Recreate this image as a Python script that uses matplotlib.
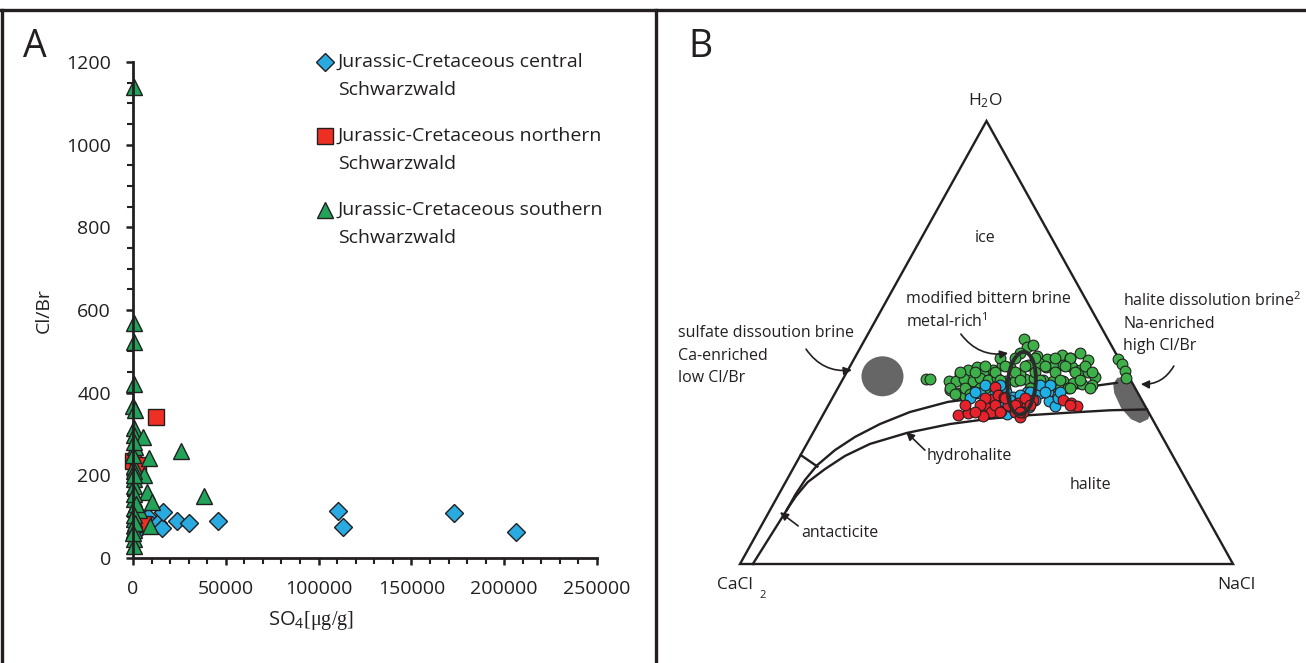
import numpy as np
import matplotlib
matplotlib.use("Agg")
import matplotlib.pyplot as plt
from matplotlib.ticker import MultipleLocator
from matplotlib.lines import Line2D
from matplotlib.patches import Ellipse, Polygon

plt.rcParams['font.family'] = ['Open Sans', 'DejaVu Sans']
plt.rcParams['mathtext.fontset'] = 'custom'
plt.rcParams['mathtext.rm'] = 'Liberation Serif'
plt.rcParams['mathtext.sf'] = 'Open Sans'
plt.rcParams['mathtext.it'] = 'Open Sans:italic'

ink = '#231f20'

# ---- panel A: SO4 [ug/g] vs Cl/Br ----
central_so4 = [1000, 3000, 8000, 10500, 13500, 15500, 16300, 23500, 30300, 46000,
               110500, 113200, 172900, 206200]
central_clbr = [60, 95, 100, 80, 85, 72, 112, 90, 84, 90, 114, 75, 110, 63]

northern_so4 = [200, 2800, 5500, 12300]
northern_clbr = [235, 225, 82, 340]

southern_so4 = [500, 500, 500, 300, 200, 1200, 300, 600, 5300, 1200, 8800, 26000,
                500, 5800, 300, 500, 7500, 38000, 10000, 300, 500, 3300, 300, 9000,
                500, 300, 500, 200, 800, 400, 1500, 600, 1000, 200, 700, 400]
southern_clbr = [1140, 568, 522, 420, 368, 358, 315, 298, 292, 268, 243, 260,
                 222, 202, 192, 175, 160, 150, 135, 142, 122, 115, 95, 78,
                 68, 45, 30, 250, 210, 155, 130, 105, 85, 60, 200, 280]

legend_labels = ['Jurassic-Cretaceous central', 'Jurassic-Cretaceous northern',
                 'Jurassic-Cretaceous southern']

# ---- panel B: ternary H2O - CaCl2 - NaCl (wt.% H2O, wt.% NaCl) ----
green_h = [41.7, 41.8, 50.7, 48.9, 49.4, 47.7, 47.6, 47.0, 46.2, 47.2, 46.4, 46.0,
           43.0, 43.8, 44.5, 43.9, 43.8, 44.9, 44.5, 44.9, 45.3, 44.5, 44.9, 44.9,
           44.5, 43.9, 43.4, 42.3, 41.2, 41.4, 41.7, 41.2, 41.9, 41.5, 41.9, 41.4,
           41.2, 41.7, 41.9, 41.5, 41.4, 41.2, 40.9, 40.6, 40.4, 39.3, 38.7, 37.9,
           38.9, 39.7, 39.7, 40.0, 39.7, 39.7, 43.0, 46.3, 45.1, 43.6, 42.0,
           46.5, 46.5, 46.5, 46.5, 46.5, 44.7, 44.7, 44.7, 44.7, 44.7, 44.7,
           43.3, 43.3, 43.3, 43.3, 43.3, 43.3, 43.3, 43.3, 41.5, 41.5, 41.5, 41.5,
           41.5, 39.7, 39.7, 39.7, 39.7, 39.7, 39.7, 39.7, 39.7, 38.4, 38.4]
green_n = [16.9, 17.6, 32.3, 33.7, 34.7, 45.1, 33.0, 36.7, 39.1, 41.7, 43.7, 47.6,
           23.1, 24.4, 25.8, 27.8, 29.5, 30.6, 32.5, 36.0, 37.9, 39.9, 41.4, 43.1,
           45.0, 47.0, 48.9, 50.9, 21.7, 23.1, 24.6, 26.6, 27.7, 29.6, 31.2, 33.3,
           35.2, 37.0, 38.7, 40.8, 42.7, 44.9, 47.0, 49.0, 51.1, 23.0, 24.7, 26.7,
           27.9, 28.8, 39.8, 41.2, 45.1, 46.7, 35.3, 53.5, 54.9, 56.3, 57.3,
           29.5, 32.5, 36.6, 40.6, 43.7, 27.3, 31.4, 35.5, 39.5, 43.6, 47.6,
           23.0, 26.0, 30.1, 34.1, 38.2, 42.2, 46.3, 49.7, 32.0, 36.0, 40.1, 44.2,
           48.2, 22.7, 25.8, 29.8, 33.9, 39.0, 43.0, 47.1, 51.1, 24.4, 27.5]

blue_h = [37.4, 38.5, 37.0, 35.9, 38.9, 37.8, 38.9, 37.4, 38.7, 38.9, 36.9, 35.7,
          35.4, 33.9, 34.9, 35.4, 38.1, 37.4, 40.4, 40.4, 40.4, 40.4, 38.8, 38.8,
          38.8, 38.8, 38.8, 37.0, 37.0, 37.0]
blue_n = [28.0, 29.4, 31.7, 33.8, 34.5, 36.4, 38.7, 40.7, 41.6, 43.1, 44.3, 46.1,
          35.4, 37.2, 32.0, 41.0, 37.7, 45.9, 29.5, 32.5, 40.7, 42.7, 28.3, 32.3,
          39.4, 42.5, 45.5, 32.2, 36.3, 41.3]

red_h = [33.6, 34.0, 34.8, 35.9, 37.2, 40.0, 38.1, 37.6, 35.4, 34.2, 33.1, 36.3,
         35.9, 37.0, 34.6, 34.4, 33.4, 37.0, 36.4, 35.7, 35.9, 34.4, 37.5, 37.5,
         37.5, 35.9, 35.9, 35.9, 35.9, 35.9, 35.9, 34.3, 34.3, 34.3]
red_n = [27.5, 29.3, 31.3, 32.1, 32.7, 31.7, 33.2, 34.7, 37.2, 38.7, 40.2, 38.3,
         40.2, 41.0, 35.6, 33.7, 32.5, 47.1, 48.9, 50.6, 36.5, 40.3, 31.0, 35.0,
         39.1, 27.7, 30.7, 33.8, 37.8, 40.9, 49.0, 30.5, 35.6, 39.6]

# phase boundaries
upper_h = [12.2, 15.6, 19.0, 22.3, 25.7, 28.7, 31.6, 34.3, 36.6, 38.4, 39.5, 40.9]
upper_n = [3.4, 3.4, 3.7, 4.5, 6.4, 9.0, 12.6, 17.3, 23.9, 35.6, 47.6, 56.0]
lower_h = [12.6, 15.3, 18.5, 21.4, 24.4, 27.1, 29.6, 31.6, 32.8, 33.6, 34.2, 34.7, 34.9]
lower_n = [3.4, 3.7, 4.5, 6.5, 9.1, 12.8, 19.1, 26.8, 34.3, 42.0, 50.2, 57.7, 65.1]
inner_h = [0.0, 12.4]
inner_n = [2.6, 3.4]
tie_h = [24.6, 22.0]
tie_n = [0.0, 4.7]


def tern(h, n):
    h = np.asarray(h) / 100.0
    n = np.asarray(n) / 100.0
    return n + h / 2.0, h


W, H = 1306, 663
fig = plt.figure(figsize=(W / 100, H / 100), dpi=100)

# panel frames
for seg in [((0, 1), (1 - 10 / H, 1 - 10 / H)), ((2 / W, 2 / W), (0, 1 - 10 / H)),
            ((656 / W, 656 / W), (0, 1 - 10 / H))]:
    fig.add_artist(Line2D(seg[0], seg[1], color=ink, lw=2.4))

# ---------------- panel A ----------------
ax = fig.add_axes([133 / W, 1 - 558 / H, 464 / W, 496 / H])
ax.plot(central_so4, central_clbr, 'D', ms=9, mfc='#29abe2', mec=ink, mew=1, zorder=3)
ax.plot(northern_so4, northern_clbr, 's', ms=11, mfc='#ee2f24', mec=ink, mew=1, zorder=4)
ax.plot(southern_so4, southern_clbr, '^', ms=12, mfc='#22a35a', mec=ink, mew=1, zorder=5)
ax.set_xlim(0, 250000)
ax.set_ylim(0, 1200)
ax.xaxis.set_major_locator(MultipleLocator(50000))
ax.xaxis.set_minor_locator(MultipleLocator(10000))
ax.yaxis.set_major_locator(MultipleLocator(200))
ax.yaxis.set_minor_locator(MultipleLocator(50))
for s in ['top', 'right']:
    ax.spines[s].set_visible(False)
for s in ['left', 'bottom']:
    ax.spines[s].set_linewidth(2)
    ax.spines[s].set_color(ink)
ax.tick_params(which='major', length=5, width=1.8, color=ink, labelsize=14,
               labelcolor=ink)
ax.tick_params(which='minor', length=4, width=1.5, color=ink)
ax.tick_params(axis='y', pad=11)
ax.tick_params(axis='x', pad=11)
for c in ax.spines.values():
    c.set_zorder(6)
for ln in ax.lines:
    ln.set_clip_on(False)

fig.text(44 / W, 1 - 311 / H, 'Cl/Br', rotation=90, ha='center', va='center',
         fontsize=14, color=ink)
fig.text(311 / W, 1 - 620 / H, r'SO$_\mathsf{4}$$\mathrm{[μg/g]}$', ha='center',
         va='center', fontsize=14.5, color=ink)
fig.text(35 / W, 1 - 47 / H, 'A', ha='center', va='center', fontsize=27, color=ink)

leg_marks = [('D', 9, '#29abe2'), ('s', 11, '#ee2f24'), ('^', 12, '#22a35a')]
leg_y = [62, 136, 210]
for (m, ms, col), lab, yy in zip(leg_marks, legend_labels, leg_y):
    fig.add_artist(Line2D([325 / W], [1 - yy / H], marker=m, ms=ms, mfc=col,
                          mec=ink, mew=1, ls='none'))
    fig.text(338 / W, 1 - yy / H, lab, ha='left', va='center', fontsize=14, color=ink)
    fig.text(338 / W, 1 - (yy + 28) / H, 'Schwarzwald', ha='left', va='center',
             fontsize=14, color=ink)

# ---------------- panel B ----------------
bx = fig.add_axes([660 / W, 0, 646 / W, 1])
bx.set_xlim(-80 / 493, 566 / 493)
bx.set_ylim(-99 / 443, 564 / 443)
bx.axis('off')

tri = Polygon([[0, 0], [1, 0], [0.5, 1]], closed=True, fill=False, ec=ink, lw=1.7,
              zorder=2)
bx.add_patch(tri)

for hh, nn in [(upper_h, upper_n), (lower_h, lower_n), (inner_h, inner_n),
               (tie_h, tie_n)]:
    x, y = tern(hh, nn)
    bx.plot(x, y, color=ink, lw=1.7, zorder=2, solid_joinstyle='round')

bx.add_patch(Ellipse((0.289, 0.4237), 0.0852, 0.0903, color='#666666', lw=0, zorder=1))
blob = Polygon([(0.765, 0.420), (0.787, 0.424), (0.811, 0.409), (0.826, 0.377),
                (0.834, 0.348), (0.828, 0.327), (0.811, 0.318), (0.793, 0.327),
                (0.773, 0.352), (0.759, 0.386), (0.757, 0.406)], closed=True,
               color='#666666', lw=0, zorder=1)
bx.add_patch(blob)
clip_tri = Polygon([[0, 0], [1, 0], [0.5, 1]], closed=True, transform=bx.transData)
blob.set_clip_path(clip_tri)

for hh, nn, col in [(green_h, green_n, '#3db049'), (blue_h, blue_n, '#1fb1e6'),
                    (red_h, red_n, '#e8222a')]:
    x, y = tern(hh, nn)
    bx.scatter(x, y, s=60, c=col, edgecolors=ink, linewidths=0.8, zorder=3)

bx.add_patch(Ellipse((0.5714, 0.4079), 0.0568, 0.142, angle=-4, fill=False,
                     ec='#2b2b2b', lw=2.8, zorder=4))

fs = 11.5
bx.text(0.497, 1.047, r'H$_\mathsf{2}$O', ha='center', va='center', fontsize=12.5, color=ink)
bx.text(0.497, 0.736, 'ice', ha='center', va='center', fontsize=fs, color=ink)
bx.text(0.337, 0.598, 'modified bittern brine', ha='left', va='center', fontsize=fs, color=ink)
bx.text(0.337, 0.546, r'metal-rich$^\mathsf{1}$', ha='left', va='center', fontsize=fs, color=ink)
bx.text(0.777, 0.594, r'halite dissolution brine$^\mathsf{2}$', ha='left', va='center',
        fontsize=fs, color=ink, clip_on=False)
bx.text(0.777, 0.542, 'Na-enriched', ha='left', va='center', fontsize=fs, color=ink)
bx.text(0.777, 0.492, 'high Cl/Br', ha='left', va='center', fontsize=fs, color=ink)
bx.text(-0.126, 0.521, 'sulfate dissoution brine', ha='left', va='center', fontsize=fs, color=ink)
bx.text(-0.126, 0.470, 'Ca-enriched', ha='left', va='center', fontsize=fs, color=ink)
bx.text(-0.126, 0.420, 'low Cl/Br', ha='left', va='center', fontsize=fs, color=ink)
bx.text(0.379, 0.244, 'hydrohalite', ha='left', va='center', fontsize=fs, color=ink)
bx.text(0.710, 0.178, 'halite', ha='center', va='center', fontsize=fs, color=ink)
bx.text(0.124, 0.070, 'antacticite', ha='left', va='center', fontsize=fs, color=ink)
bx.text(-0.01, -0.047, 'CaCl', ha='center', va='center', fontsize=12.5, color=ink)
bx.text(0.045, -0.072, '2', ha='center', va='center', fontsize=8, color=ink)
bx.text(1.006, -0.047, 'NaCl', ha='center', va='center', fontsize=12.5, color=ink)
bx.text(-0.08, 1.166, 'B', ha='center', va='center', fontsize=27, color=ink)

arrows = [((0.134, 0.485), (0.227, 0.438), 0.3),
          ((0.448, 0.519), (0.544, 0.476), 0.3),
          ((0.880, 0.447), (0.813, 0.406), -0.3),
          ((0.375, 0.257), (0.337, 0.298), 0.0),
          ((0.118, 0.086), (0.081, 0.117), 0.0)]
for start, end, rad in arrows:
    bx.annotate('', xy=end, xytext=start,
                arrowprops=dict(arrowstyle='-|>', color=ink, lw=1.2, mutation_scale=12,
                                shrinkA=0, shrinkB=0,
                                connectionstyle='arc3,rad=%s' % rad))

fig.savefig('out.png', dpi=100)
